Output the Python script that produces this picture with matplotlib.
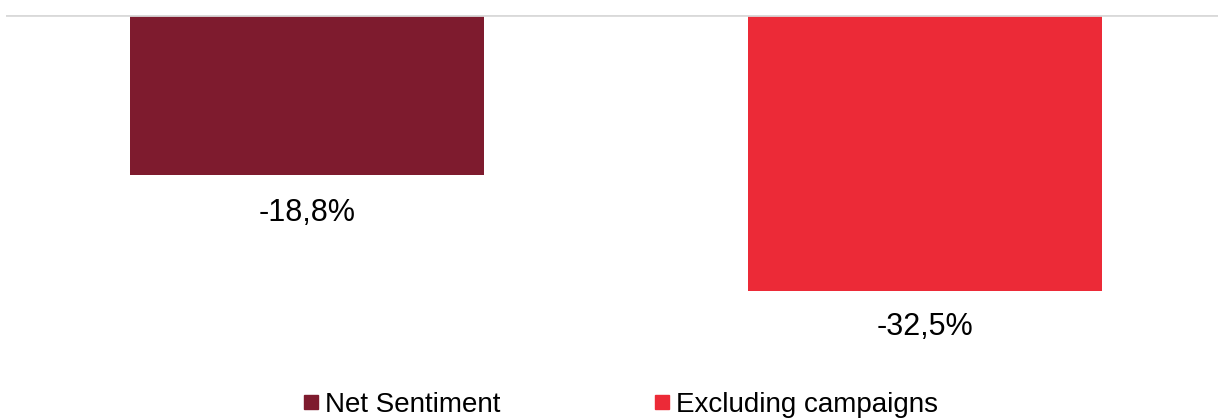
import matplotlib
matplotlib.use("Agg")
import matplotlib.pyplot as plt
from matplotlib.lines import Line2D

series = ["Net Sentiment", "Excluding campaigns"]
values = [-18.8, -32.5]
labels = ["-18,8%", "-32,5%"]
colors = ["#7E1B2E", "#EC2A37"]

plt.rcParams['font.family'] = ['Liberation Sans', 'DejaVu Sans']

W, H = 1219, 419
fig = plt.figure(figsize=(W / 100, H / 100), dpi=100)

# axes geometry in pixels
top_px = 15
scale = 8.48  # px per unit
ymin = -40
bottom_px = top_px + (-ymin) * scale
left_px, right_px = 6, 1218
ax = fig.add_axes([left_px / W, (H - bottom_px) / H, (right_px - left_px) / W, (bottom_px - top_px) / H])

pitch = 618.0
xl = 0 - (307 - left_px) / pitch
xr = 1 + (right_px - 925) / pitch
bar_w = 354 / pitch

x = list(range(len(values)))
ax.bar(x, values, width=bar_w, color=colors, zorder=2)
ax.axhline(0, color="#D9D9D9", lw=2, zorder=3)
ax.set_xlim(xl, xr)
ax.set_ylim(ymin, 0.05)
ax.axis("off")

offsets = [-27.8, -26.2]
for xi, v, lab, off in zip(x, values, labels, offsets):
    ax.annotate(lab, (xi, v), xytext=(0, off), textcoords="offset points",
                ha="center", va="center", fontsize=22, color="#000000")

handles = [Line2D([], [], marker='s', linestyle='none', markersize=10.5,
                  markerfacecolor=c, markeredgecolor=c) for c in colors]
leg = fig.legend(handles, series, loc="center", bbox_to_anchor=(621 / W, (H - 405) / H),
                 ncol=2, frameon=False, fontsize=20, handlelength=0.5,
                 handletextpad=0.25, columnspacing=5.6, borderpad=0)

fig.savefig("out.png", dpi=100)
